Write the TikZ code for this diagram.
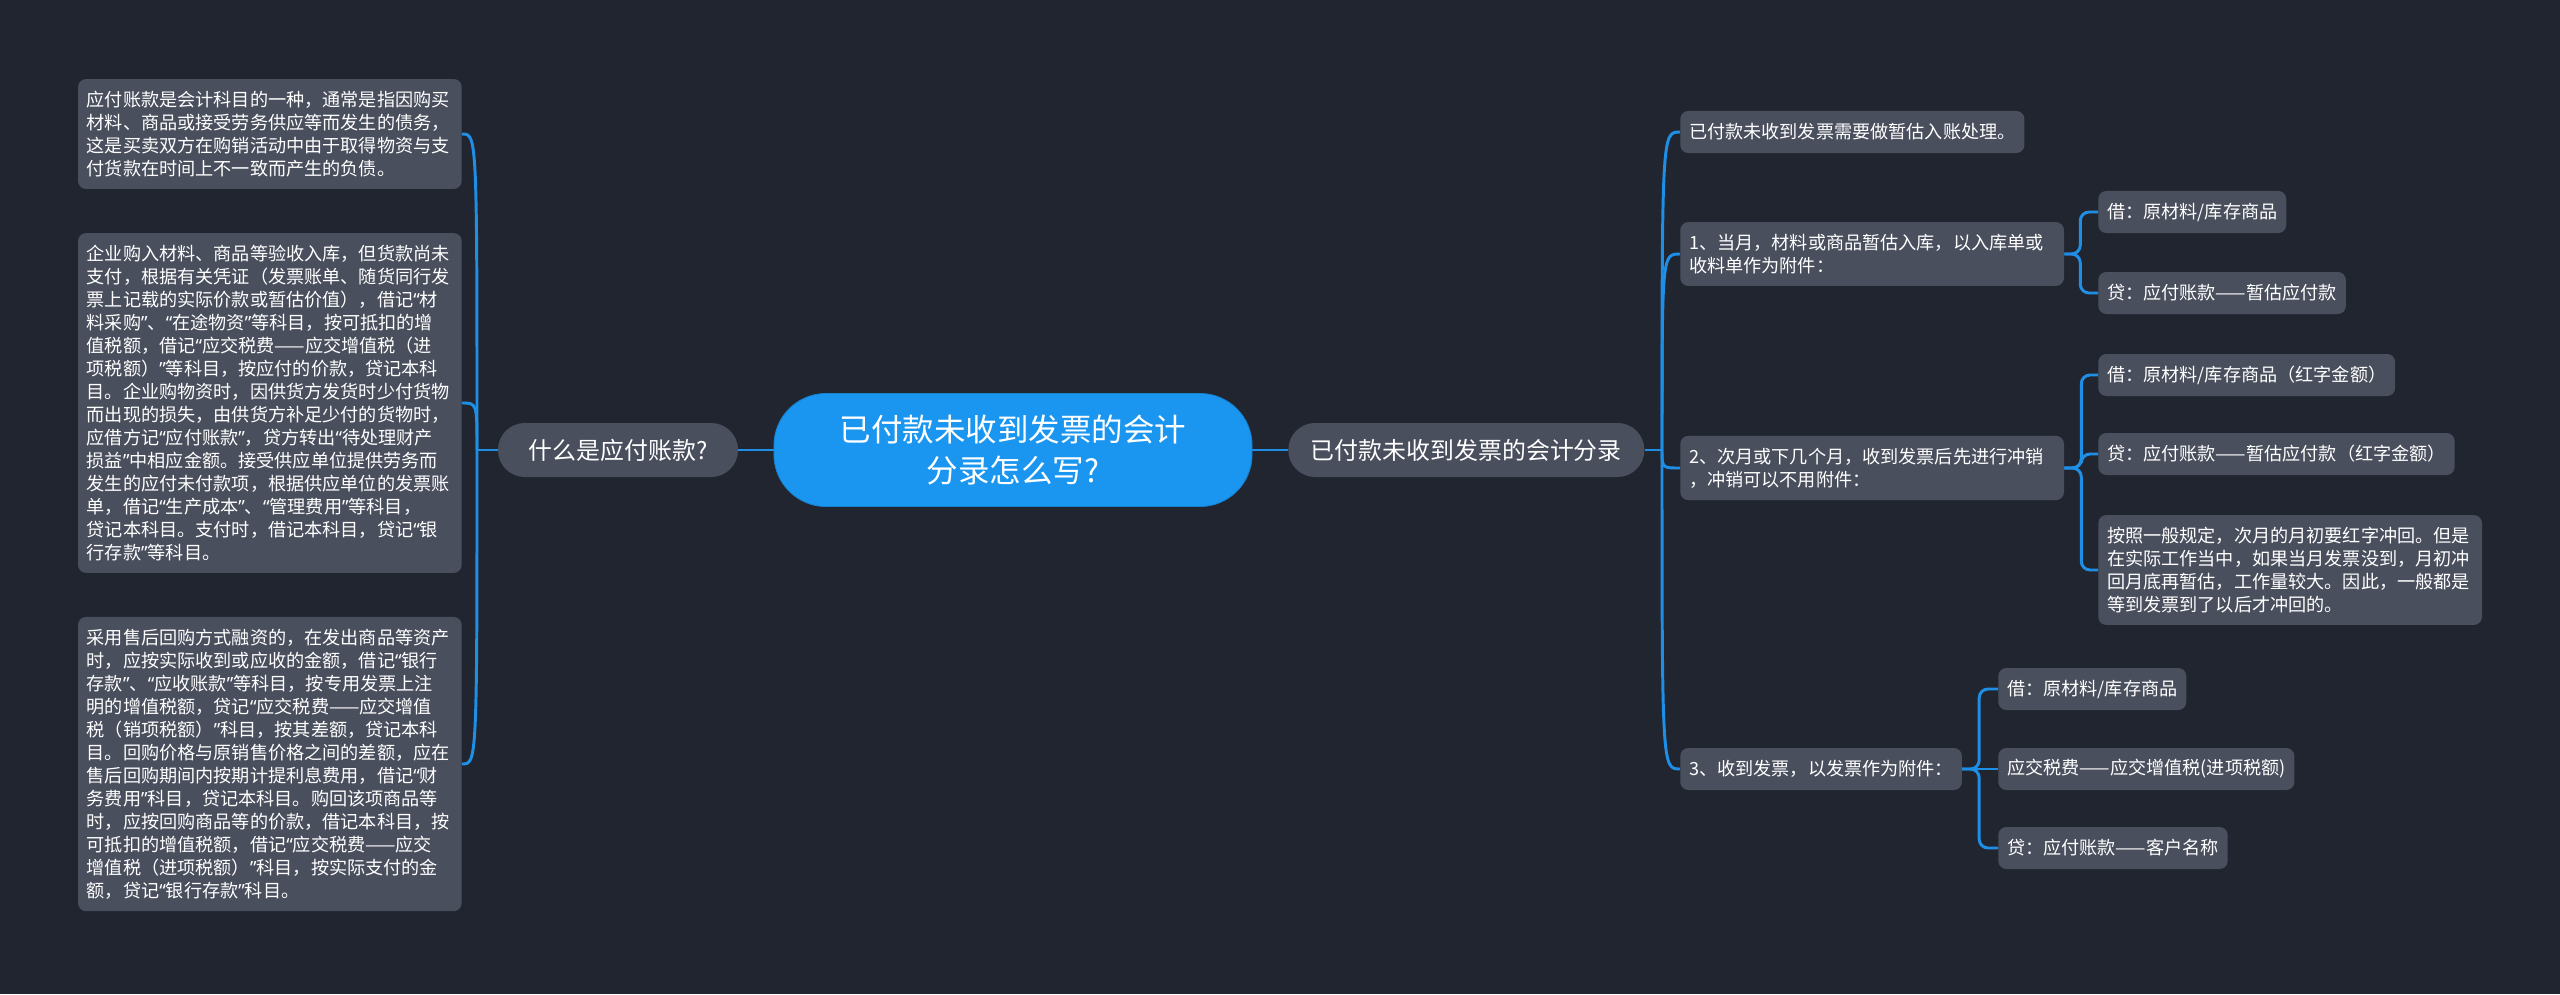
\documentclass[tikz,border=0pt]{standalone}
\usepackage{fontspec}
\setmainfont{Noto Sans CJK SC}
\newfontfamily\quotefont{Noto Sans}
\newcommand\qo{{\quotefont“}}
\newcommand\qc{{\quotefont”}}
\usepackage{xcolor}
\usepackage{tikz}
\usetikzlibrary{positioning}

\definecolor{bgdark}{HTML}{21252F}
\definecolor{boxgray}{HTML}{4A4F5E}
\definecolor{rootblue}{HTML}{1A96F0}
\definecolor{linkblue}{HTML}{1F8FE6}

\begin{document}
\begin{tikzpicture}[
    x=0.025cm, y=-0.025cm,
    rootbox/.style={draw=rootblue!85!black, line width=0.6pt, fill=rootblue, text=white, rounded corners=1.3cm, align=center, minimum width=11.95cm, minimum height=2.825cm, font=\fontsize{22.4}{29}\selectfont},
    topicbox/.style={fill=boxgray, text=white, rounded corners=0.67cm, minimum height=1.35cm, align=center, font=\fontsize{17}{20}\selectfont},
    leafbox/.style={fill=boxgray, text=white, rounded corners=0.2cm, align=left, inner xsep=0.22cm, inner ysep=0.3cm, font=\fontsize{12.9}{16.35}\selectfont},
    onebox/.style={leafbox, minimum height=1.05cm, inner ysep=0pt},
    widebox/.style={leafbox, text width=9.15cm},
    link/.style={linkblue, line width=2.1pt},
    elbow/.style={link, rounded corners=0.22cm},
]
% background and page size
\fill[bgdark] (0,0) rectangle (2560,994);
\useasboundingbox (0,0) rectangle (2560,994);

% Centre topic and the two main branches
\node[rootbox] (root) at (1013,450) {已付款未收到发票的会计\\分录怎么写?};
\node[topicbox, minimum width=6cm] (what) at (618,450) {什么是应付账款?};
\node[topicbox, minimum width=8.9cm, anchor=west] (entry) at (1288,450) {已付款未收到发票的会计分录};

% Left side: what is it
\node[widebox, anchor=east] (l1) at (462,134) {应付账款是会计科目的一种，通常是指因购买\\材料、商品或接受劳务供应等而发生的债务，\\这是买卖双方在购销活动中由于取得物资与支\\付货款在时间上不一致而产生的负债。};
\node[widebox, anchor=east] (l2) at (462,403) {企业购入材料、商品等验收入库，但货款尚未\\支付，根据有关凭证（发票账单、随货同行发\\票上记载的实际价款或暂估价值），借记\qo 材\\料采购\qc 、\qo 在途物资\qc 等科目，按可抵扣的增\\值税额，借记\qo 应交税费——应交增值税（进\\项税额）\qc 等科目，按应付的价款，贷记本科\\目。企业购物资时，因供货方发货时少付货物\\而出现的损失，由供货方补足少付的货物时，\\应借方记\qo 应付账款\qc ，贷方转出\qo 待处理财产\\损益\qc 中相应金额。接受供应单位提供劳务而\\发生的应付未付款项，根据供应单位的发票账\\单，借记\qo 生产成本\qc 、\qo 管理费用\qc 等科目，\\贷记本科目。支付时，借记本科目，贷记\qo 银\\行存款\qc 等科目。};
\node[widebox, anchor=east] (l3) at (462,764) {采用售后回购方式融资的，在发出商品等资产\\时，应按实际收到或应收的金额，借记\qo 银行\\存款\qc 、\qo 应收账款\qc 等科目，按专用发票上注\\明的增值税额，贷记\qo 应交税费——应交增值\\税（销项税额）\qc 科目，按其差额，贷记本科\\目。回购价格与原销售价格之间的差额，应在\\售后回购期间内按期计提利息费用，借记\qo 财\\务费用\qc 科目，贷记本科目。购回该项商品等\\时，应按回购商品等的价款，借记本科目，按\\可抵扣的增值税额，借记\qo 应交税费——应交\\增值税（进项税额）\qc 科目，按实际支付的金\\额，贷记\qo 银行存款\qc 科目。};

% Right side: the entries
\node[onebox, anchor=west] (r0) at (1680,132) {已付款未收到发票需要做暂估入账处理。};
\node[widebox, anchor=west] (r1) at (1680,254) {1、当月，材料或商品暂估入库，以入库单或\\收料单作为附件：};
\node[widebox, anchor=west] (r2) at (1680,468) {2、次月或下几个月，收到发票后先进行冲销\\，冲销可以不用附件：};
\node[onebox, anchor=west] (r3) at (1680,769) {3、收到发票，以发票作为附件：};

% Step 1 items
\node[onebox, anchor=west] (r1a) at (2098,212) {借：原材料/库存商品};
\node[onebox, anchor=west] (r1b) at (2098,293) {贷：应付账款——暂估应付款};

% Step 2 items
\node[onebox, anchor=west] (r2a) at (2098,375) {借：原材料/库存商品（红字金额）};
\node[onebox, anchor=west] (r2b) at (2098,454) {贷：应付账款——暂估应付款（红字金额）};
\node[widebox, anchor=west] (r2c) at (2098,570) {按照一般规定，次月的月初要红字冲回。但是\\在实际工作当中，如果当月发票没到，月初冲\\回月底再暂估，工作量较大。因此，一般都是\\等到发票到了以后才冲回的。};

% Step 3 items
\node[onebox, anchor=west] (r3a) at (1998,689) {借：原材料/库存商品};
\node[onebox, anchor=west] (r3b) at (1998,769) {应交税费——应交增值税(进项税额)};
\node[onebox, anchor=west] (r3c) at (1998,848) {贷：应付账款——客户名称};

% Connectors
\coordinate (lb) at (477,450);
\coordinate (rb) at (1662,450);
\draw[link] (root.west) -- (what.east);
\draw[link] (root.east) -- (entry.west);
\draw[link] (what.west) -- (lb);
\draw[link] (entry.east) -- (rb);
\foreach \c in {l1,l2,l3}
    \draw[link] (lb) .. controls (lb |- \c.east) .. (\c.east);
\foreach \c in {r0,r1,r2,r3}
    \draw[link] (rb) .. controls (rb |- \c.west) .. (\c.west);
\foreach \c in {r1a,r1b}
    \draw[elbow] (r1.east) -- ++(16,0) |- (\c.west);
\foreach \c in {r2a,r2b,r2c}
    \draw[elbow] (r2.east) -- ++(17,0) |- (\c.west);
\foreach \c in {r3a,r3c}
    \draw[elbow] (r3.east) -- ++(17,0) |- (\c.west);
\draw[link] (r3.east) -- (r3b.west);
\end{tikzpicture}
\end{document}
